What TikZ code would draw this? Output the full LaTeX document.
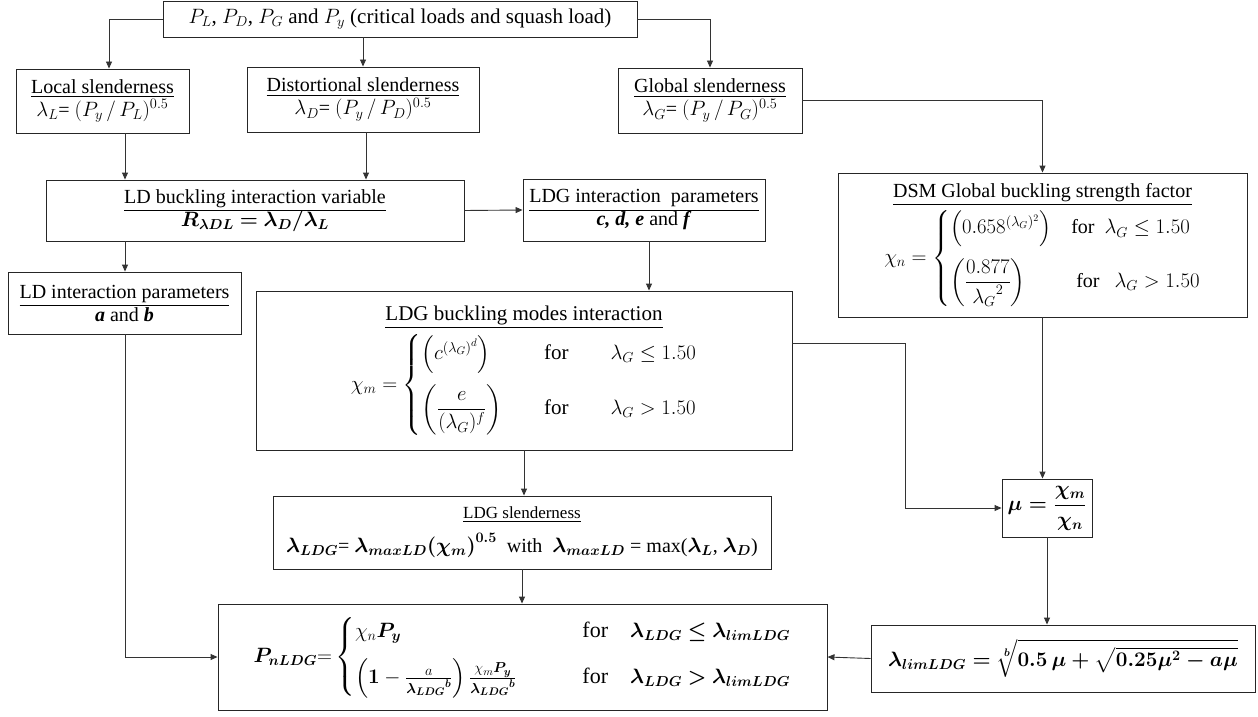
\documentclass[tikz,border=0pt]{standalone}
\usepackage{amsmath,amssymb}
\usepackage{bm}
\usepackage{fontspec}
\setmainfont{Liberation Serif}
\newfontfamily\tnr{Liberation Serif}
\usetikzlibrary{arrows.meta,calc}
\begin{document}
\begin{tikzpicture}[x=1pt,y=-1pt,
  box/.style={draw=black!85, line width=0.9pt, rectangle, inner sep=0pt, align=center, font=\tnr\fontsize{20}{24}\selectfont},
  conn/.style={draw=black!80, line width=0.9pt, -{Triangle[length=7pt,width=6pt]}},
  wire/.style={draw=black!80, line width=0.9pt}]
\useasboundingbox (0,0) rectangle (1258,717);

% nodes
\node[box, minimum width=474, minimum height=36, font=\tnr\fontsize{21}{24}\selectfont] (top) at (400,19)
  {$P_L$, $P_D$, $P_G$ and $P_y$ (critical loads and squash load)};
\node[box, minimum width=173, minimum height=64] (local) at (102.5,101)
  {\underline{Local slenderness}\\[-1pt] $\lambda_L$= $(P_y\,/\,P_L)^{0.5}$};
\node[box, minimum width=232, minimum height=65] (dist) at (363,99.5)
  {\underline{Distortional slenderness}\\[-1pt] $\lambda_D$= $(P_y\,/\,P_D)^{0.5}$};
\node[box, minimum width=184, minimum height=65] (glob) at (710,100.5)
  {\underline{Global slenderness}\\[-1pt] $\lambda_G$= $(P_y\,/\,P_G)^{0.5}$};
\node[box, minimum width=418, minimum height=61] (ldvar) at (255,210.5)
  {\underline{LD buckling interaction variable}\\[-1pt] $\bm{R_{\lambda DL} = \lambda_D/\lambda_L}$};
\node[box, minimum width=242, minimum height=62] (ldgpar) at (644,210)
  {\underline{LDG interaction\ \ parameters}\\[-1pt] \textbf{\textit{c, d, e}} and \textbf{\textit{f}}};
\node[box, minimum width=409, minimum height=144] (dsm) at (1042.5,245)
  {\underline{DSM Global buckling strength factor}\\[4pt]
   $\chi_n = \begin{cases}\left(0.658^{(\lambda_G)^2}\right) & \text{for }\ \lambda_G \le 1.50\\[16pt]
   \left(\dfrac{0.877}{{\lambda_G}^{2}}\right) & \ \text{for }\ \ \lambda_G > 1.50\end{cases}$};
\node[box, minimum width=233, minimum height=62] (ldpar) at (124.5,303)
  {\underline{LD interaction parameters}\\[-1pt] \textbf{\textit{a}} and \textbf{\textit{b}}};
\node[box, minimum width=536, minimum height=159, font=\tnr\fontsize{21}{24}\selectfont] (ldgmodes) at (524,370.5)
  {\underline{LDG buckling modes interaction}\\[5pt]
   $\chi_m = \begin{cases}\left(c^{(\lambda_G)^d}\right) & \quad\text{for}\qquad \lambda_G \le 1.50\\[16pt]
   \left(\dfrac{e}{(\lambda_G)^f}\right) & \quad\text{for}\qquad \lambda_G > 1.50\end{cases}$};
\node[box, minimum width=498, minimum height=73] (ldgsl) at (522,532.5)
  {{\fontsize{17}{20}\selectfont\underline{LDG slenderness}}\\[10pt]
   $\bm{\lambda_{LDG}}$= $\bm{\lambda_{maxLD}(\chi_m)^{0.5}}$\ \ with\ \ $\bm{\lambda_{maxLD}}$ = max($\bm{\lambda_L}$, $\bm{\lambda_D}$)};
\node[box, minimum width=90, minimum height=58] (mu) at (1047,508)
  {{\boldmath$\mu = \dfrac{\chi_m}{\chi_n}$}};
\node[box, minimum width=609, minimum height=106, font=\tnr\fontsize{22}{26}\selectfont] (pn) at (522.5,657)
  {$\bm{P_{nLDG}}{=}\begin{cases}\chi_n\bm{P_y} & \qquad\text{for}\quad \bm{\lambda_{LDG}\le\lambda_{limLDG}}\\[12pt]
   \left(\bm{1}-\frac{a}{\bm{{\lambda_{LDG}}^{b}}}\right)\frac{\chi_m\bm{P_y}}{\bm{{\lambda_{LDG}}^{b}}} & \qquad\text{for}\quad \bm{\lambda_{LDG}>\lambda_{limLDG}}\end{cases}$};
\node[box, minimum width=384, minimum height=67, font=\tnr\fontsize{21}{24}\selectfont] (lim) at (1063,658.5)
  {{\boldmath$\lambda_{limLDG} = \sqrt[b]{0.5\,\mu+\sqrt{0.25\mu^2-a\mu}}$}};

% helper coordinates
\coordinate (c1) at (125,0);
\coordinate (c2) at (109,0);
\coordinate (c3) at (366,0);
\coordinate (c4) at (649,0);
\coordinate (c5) at (905,0);

% connectors
\draw[conn] (top.west) -| (c2 |- local.north);
\draw[conn] (dist.north |- top.south) -- (dist.north);
\draw[conn] (top.east) -| (glob.north);
\draw[conn] (glob.east) -| (dsm.north);
\draw[conn] (local.south -| c1) -- (ldvar.north -| c1);
\draw[conn] (dist.south -| c3) -- (ldvar.north -| c3);
\draw[conn] (ldvar.east) -- (ldgpar.west);
\draw[conn] (ldgpar.south -| c4) -- (ldgmodes.north -| c4);
\draw[conn] (ldvar.south -| c1) -- (ldpar.north -| c1);
\draw[conn] (ldpar.south -| c1) |- (pn.west);
\draw[conn] ([yshift=27.5pt]ldgmodes.east) -| (c5 |- mu.west) -- (mu.west);
\draw[conn] (dsm.south) -- (dsm.south |- mu.north);
\draw[conn] (mu.south) -- (mu.south |- lim.north);
\draw[conn] (ldgmodes.south) -- (ldgmodes.south |- ldgsl.north);
\draw[conn] (ldgsl.south) -- (ldgsl.south |- pn.north);
\draw[conn] (lim.west) -- (pn.east);
\end{tikzpicture}
\end{document}
